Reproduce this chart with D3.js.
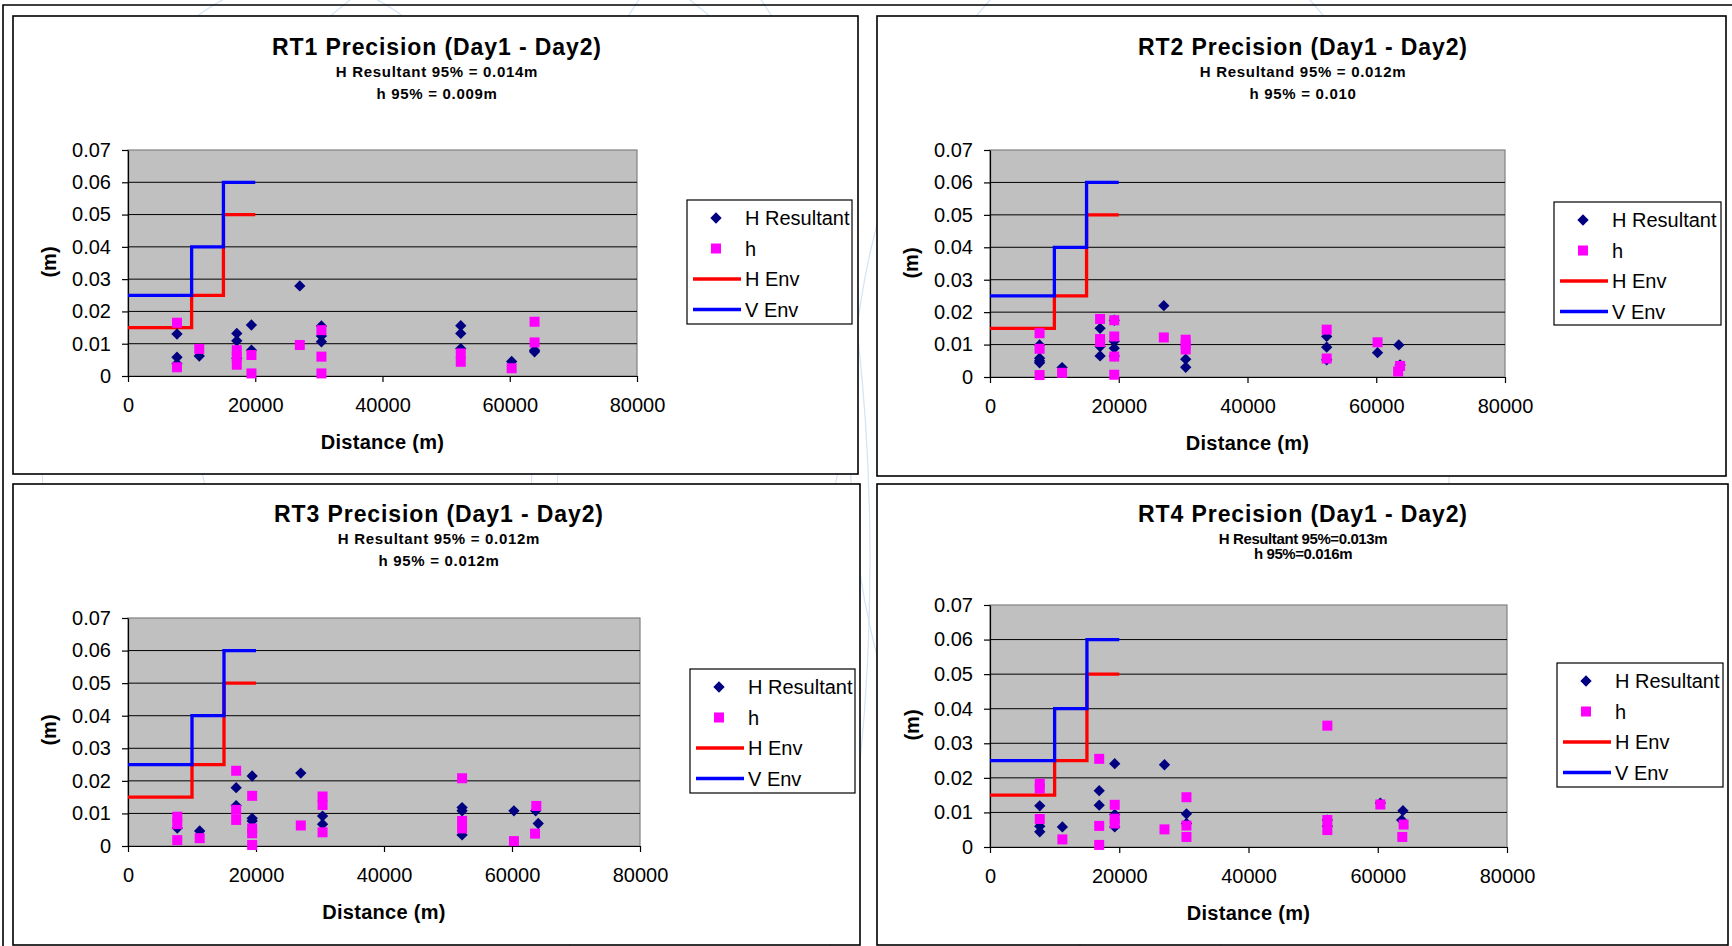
<!DOCTYPE html>
<html>
<head>
<meta charset="utf-8">
<script src="https://cdn.jsdelivr.net/npm/d3@7"></script>
<style>
  body { margin: 0; background: #fff; }
  svg { display: block; font-family: 'Liberation Sans', Arial, sans-serif; }
</style>
</head>
<body>
<svg id="chart" width="1732" height="946"></svg>
<script>

// Shared values

const xTicks = [0, 20000, 40000, 60000, 80000]
const yTicks = [0, 0.01, 0.02, 0.03, 0.04, 0.05, 0.06, 0.07]
const seriesNames = ['H Resultant', 'h', 'H Env', 'V Env']
const hEnv = [[0, 0.015], [10000, 0.025], [15000, 0.05], [20000, 0.05]]
const vEnv = [[0, 0.025], [10000, 0.04], [15000, 0.06], [20000, 0.06]]

const titles = [
    'RT1 Precision (Day1 - Day2)',
    'RT2 Precision (Day1 - Day2)',
    'RT3 Precision (Day1 - Day2)',
    'RT4 Precision (Day1 - Day2)'
]
const subTitlesH = ['H Resultant 95% = 0.014m', 'H Resultand 95% = 0.012m', 'H Resultant 95% = 0.012m', 'H Resultant 95%=0.013m']
const subTitlesh = ['h 95% = 0.009m', 'h 95% = 0.010', 'h 95% = 0.012m', 'h 95%=0.016m']

// Points [distance (m), value (m)]

const rt1HRes = [[7700, 0.0130], [7700, 0.0058], [7700, 0.0038], [11200, 0.0062], [17100, 0.0132], [17100, 0.0109],
    [17100, 0.0055], [19400, 0.0158], [19400, 0.0080], [27000, 0.0279], [30400, 0.0155], [30400, 0.0124],
    [30400, 0.0106], [52300, 0.0156], [52300, 0.0132], [52300, 0.0085], [60300, 0.0045], [63900, 0.0080], [63900, 0.0075]]
const rt1h = [[7700, 0.0165], [7700, 0.0027], [11200, 0.0084], [17100, 0.0080], [17100, 0.0060], [17100, 0.0035],
    [19400, 0.0065], [19400, 0.0008], [27000, 0.0096], [30400, 0.0142], [30400, 0.0060], [30400, 0.0008],
    [52300, 0.0070], [52300, 0.0044], [60300, 0.0024], [63900, 0.0168], [63900, 0.0104]]

const rt2HRes = [[7700, 0.0099], [7700, 0.0058], [7700, 0.0050], [7700, 0.0044], [11200, 0.0029], [17100, 0.0150],
    [17100, 0.0094], [17100, 0.0065], [19300, 0.0175], [19300, 0.0110], [19300, 0.0089], [19300, 0.0065],
    [27000, 0.0220], [30400, 0.0099], [30400, 0.0055], [30400, 0.0030], [52300, 0.0125], [52300, 0.0092],
    [52300, 0.0053], [60200, 0.0075], [63500, 0.0099], [63700, 0.0037]]
const rt2h = [[7700, 0.0135], [7700, 0.0087], [7700, 0.0006], [11200, 0.0013], [17100, 0.0179], [17100, 0.0117],
    [17100, 0.0108], [19300, 0.0175], [19300, 0.0125], [19300, 0.0063], [19300, 0.0007], [27000, 0.0122],
    [30400, 0.0115], [30400, 0.0100], [30400, 0.0085], [52300, 0.0146], [52300, 0.0057], [60200, 0.0107],
    [63700, 0.0034], [63400, 0.0017]]

const rt3HRes = [[7700, 0.0055], [11200, 0.0046], [16900, 0.0179], [16900, 0.0124], [19400, 0.0215], [19400, 0.0085],
    [19400, 0.0077], [27000, 0.0224], [30400, 0.0092], [30400, 0.0067], [52200, 0.0118], [52200, 0.0108],
    [52200, 0.0034], [60300, 0.0108], [63700, 0.0108], [64100, 0.0069]]
const rt3h = [[7700, 0.0090], [7700, 0.0067], [7700, 0.0018], [11200, 0.0024], [16900, 0.0231], [16900, 0.0111],
    [16900, 0.0080], [19400, 0.0154], [19400, 0.0054], [19400, 0.0039], [19400, 0.0003], [27000, 0.0063],
    [30400, 0.0152], [30400, 0.0126], [30400, 0.0042], [52200, 0.0208], [52200, 0.0077], [52200, 0.0054],
    [60300, 0.0015], [63800, 0.0123], [63600, 0.0038]]

const rt4HRes = [[7700, 0.0119], [7700, 0.0060], [7700, 0.0044], [11200, 0.0058], [16900, 0.0163], [16900, 0.0121],
    [19300, 0.0241], [19300, 0.0094], [19300, 0.0058], [27000, 0.0238], [30400, 0.0096], [30400, 0.0068],
    [52200, 0.0078], [52200, 0.0060], [60400, 0.0127], [63900, 0.0105], [63700, 0.0078]]
const rt4h = [[7700, 0.0183], [7700, 0.0169], [7700, 0.0081], [11200, 0.0022], [16900, 0.0255], [16900, 0.0061],
    [16900, 0.0006], [19300, 0.0122], [19300, 0.0082], [19300, 0.0068], [27000, 0.0051], [30400, 0.0144],
    [30400, 0.0062], [30400, 0.0029], [52200, 0.0351], [52200, 0.0078], [52200, 0.0049], [60400, 0.0123],
    [64000, 0.0065], [63800, 0.0029]]

// Layout of the four panels

const panels = [
    { box: [13, 16, 858, 474], plot: [128, 150, 637, 376], legend: [687, 200, 852, 324],
      title: [437, 47, 72, 94], yLabel: [49, 262], hres: rt1HRes, h: rt1h },
    { box: [877, 16, 1726, 476], plot: [990, 150, 1505, 377], legend: [1554, 202, 1721, 325],
      title: [1303, 47, 72, 94], yLabel: [911, 263], hres: rt2HRes, h: rt2h },
    { box: [13, 484, 860, 945], plot: [128, 618, 640, 846], legend: [690, 669, 855, 793],
      title: [439, 514, 539, 561], yLabel: [49, 730], hres: rt3HRes, h: rt3h },
    { box: [877, 484, 1728, 945], plot: [990, 605, 1507, 847], legend: [1557, 663, 1723, 787],
      title: [1303, 514, 539, 554], yLabel: [912, 725], hres: rt4HRes, h: rt4h, tight: true }
]

const navy = '#000080'
const magenta = '#ff00ff'
const red = '#ff0000'
const blue = '#0000ff'
const sq = 10

const svg = d3.select('#chart')

// Faint background pattern

const bg = svg.append('g').attr('fill', 'none').attr('stroke', '#d5e3f4').attr('stroke-width', 1.2)
bg.append('ellipse').attr('cx', 300).attr('cy', 420).attr('rx', 260).attr('ry', 440)
bg.append('ellipse').attr('cx', 520).attr('cy', 360).attr('rx', 330).attr('ry', 420)
bg.append('ellipse').attr('cx', 1150).attr('cy', 440).attr('rx', 300).attr('ry', 520)
bg.append('ellipse').attr('cx', 700).attr('cy', 560).attr('rx', 170).attr('ry', 600)

// Outer frame

svg.append('path').attr('d', 'M3,946 V5 H1732').attr('fill', 'none').attr('stroke', '#000').attr('stroke-width', 1.6)

function diamond(size) {
    return d3.symbol(d3.symbolSquare, size)()
}

function drawPanel(p, i) {

    const g = svg.append('g')
    const [bx0, by0, bx1, by1] = p.box
    const [px0, py0, px1, py1] = p.plot

    g.append('rect')
        .attr('x', bx0).attr('y', by0).attr('width', bx1 - bx0).attr('height', by1 - by0)
        .attr('fill', '#fff').attr('stroke', '#000').attr('stroke-width', 1.6)

    const x = d3.scaleLinear().domain([0, 80000]).range([px0, px1])
    const y = d3.scaleLinear().domain([0, 0.07]).range([py1, py0])

    // Titles

    const [tx, ty, s1, s2] = p.title
    g.append('text').attr('x', tx).attr('y', ty).attr('dy', '0.36em').attr('text-anchor', 'middle')
        .attr('font-size', 23).attr('font-weight', 'bold').attr('letter-spacing', 0.9).text(titles[i])
    const subSpacing = p.tight ? -0.4 : 0.7
    g.append('text').attr('x', tx).attr('y', s1).attr('dy', '0.36em').attr('text-anchor', 'middle')
        .attr('font-size', 15).attr('font-weight', 'bold').attr('letter-spacing', subSpacing).text(subTitlesH[i])
    g.append('text').attr('x', tx).attr('y', s2).attr('dy', '0.36em').attr('text-anchor', 'middle')
        .attr('font-size', 15).attr('font-weight', 'bold').attr('letter-spacing', subSpacing).text(subTitlesh[i])

    // Plot area and gridlines

    g.append('rect')
        .attr('x', px0).attr('y', py0).attr('width', px1 - px0).attr('height', py1 - py0)
        .attr('fill', '#c0c0c0').attr('stroke', '#808080').attr('stroke-width', 1.2)

    g.append('g').selectAll('line').data(yTicks.slice(1, -1)).join('line')
        .attr('x1', px0).attr('x2', px1).attr('y1', d => y(d)).attr('y2', d => y(d))
        .attr('stroke', '#000').attr('stroke-width', 1)

    // Axes

    const yAxis = d3.axisLeft(y).tickValues(yTicks)
        .tickFormat(d => d === 0 ? '0' : d3.format('.2f')(d))
        .tickSize(6).tickSizeOuter(0).tickPadding(11)
    const xAxis = d3.axisBottom(x).tickValues(xTicks).tickFormat(d3.format('d'))
        .tickSize(6).tickSizeOuter(0).tickPadding(16)

    const ya = g.append('g').attr('transform', `translate(${px0},0)`).call(yAxis)
    const xa = g.append('g').attr('transform', `translate(0,${py1})`).call(xAxis)
    for (const a of [ya, xa]) {
        a.attr('font-family', null).attr('font-size', 20)
        a.selectAll('path, line').attr('stroke', '#000').attr('stroke-width', 1.2)
        a.selectAll('text').attr('fill', '#000')
    }

    g.append('text').attr('x', (px0 + px1) / 2).attr('y', py1 + 66).attr('dy', '0.36em')
        .attr('text-anchor', 'middle').attr('font-size', 20).attr('font-weight', 'bold')
        .attr('letter-spacing', 0.3).text('Distance (m)')

    g.append('text').attr('transform', `translate(${p.yLabel[0]},${p.yLabel[1]}) rotate(-90)`)
        .attr('dy', '0.36em').attr('text-anchor', 'middle')
        .attr('font-size', 20).attr('font-weight', 'bold').text('(m)')

    // Envelopes

    const line = d3.line().x(d => x(d[0])).y(d => y(d[1])).curve(d3.curveStepAfter)
    g.append('path').attr('d', line(hEnv)).attr('fill', 'none').attr('stroke', red).attr('stroke-width', 3.3)
    g.append('path').attr('d', line(vEnv)).attr('fill', 'none').attr('stroke', blue).attr('stroke-width', 3.3)

    // Points

    g.append('g').selectAll('path').data(p.hres).join('path')
        .attr('d', diamond(64))
        .attr('transform', d => `translate(${x(d[0])},${y(d[1])}) rotate(45)`)
        .attr('fill', navy)

    g.append('g').selectAll('rect').data(p.h).join('rect')
        .attr('x', d => x(d[0]) - sq / 2).attr('y', d => y(d[1]) - sq / 2)
        .attr('width', sq).attr('height', sq)
        .attr('fill', magenta)

    // Legend

    const [lx0, ly0, lx1, ly1] = p.legend
    const lg = g.append('g').attr('transform', `translate(${lx0},${ly0})`)
    lg.append('rect').attr('width', lx1 - lx0).attr('height', ly1 - ly0)
        .attr('fill', '#fff').attr('stroke', '#000').attr('stroke-width', 1.2)

    const items = lg.selectAll('g').data(seriesNames).join('g')
        .attr('transform', (d, k) => `translate(0,${18 + k * 30.5})`)

    items.append('text').attr('x', 58).attr('dy', '0.36em').attr('font-size', 20).text(d => d)

    items.filter((d, k) => k === 0).append('path')
        .attr('d', diamond(64)).attr('transform', 'translate(29,0) rotate(45)').attr('fill', navy)
    items.filter((d, k) => k === 1).append('rect')
        .attr('x', 29 - sq / 2).attr('y', -sq / 2).attr('width', sq).attr('height', sq).attr('fill', magenta)
    items.filter((d, k) => k >= 2).append('line')
        .attr('x1', 6).attr('x2', 54)
        .attr('stroke', (d, k) => k === 0 ? red : blue).attr('stroke-width', 3.3)

}

panels.forEach(drawPanel)

</script>
</body>
</html>
